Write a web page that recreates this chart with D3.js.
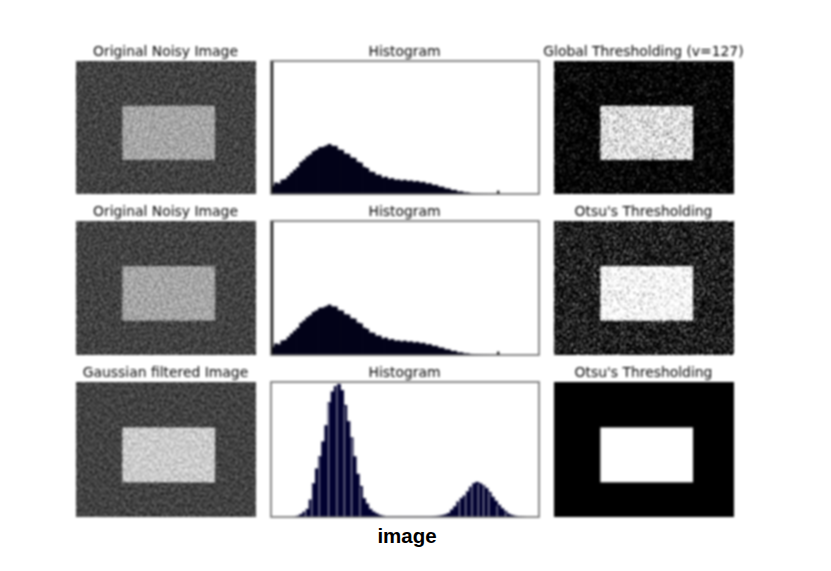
<!DOCTYPE html>
<html><head><meta charset="utf-8">
<script src="https://cdn.jsdelivr.net/npm/d3@7/dist/d3.min.js"></script>
<style>html,body{margin:0;background:#fff}svg{display:block;position:absolute;left:0;top:0}#c{filter:blur(0.8px)}</style></head>
<body><svg id="c" width="831" height="571"></svg><svg id="cap" width="831" height="571"></svg>
<script>
const imageTitles = [["Original Noisy Image","Global Thresholding (v=127)"],["Original Noisy Image","Otsu's Thresholding"],["Gaussian filtered Image","Otsu's Thresholding"]];
const histogramTitle = "Histogram";
const captionText = "image";
// histogram heights, % of axis height, one value per 3 intensity levels
const noisyHistogram = [6,8.6,8,10.8,11.2,13.6,16,18.2,20.3,24,25.8,28.2,29.7,32.2,33.3,35.2,35.4,36.4,37.6,36.2,36.2,33.4,33.2,30.4,30.2,27.4,27.2,24.2,23.6,20.4,19.6,16.8,16.6,14.4,14.5,12.4,13,11.4,11.9,10.6,10.9,10.1,10.7,9.8,10.2,9.3,9.8,8.8,9.1,7.8,8.1,6.8,6.9,5.5,5.5,4.2,4.2,3,3.1,1.9,2,1.2,1.2,.8,.6,.5,.4,.3,.3,.2,.2,.2,0,0,0,0,0,0,0,0,0,0,0,0,0];
const noisySpikes = [[0,100],[216,2.5]];
const gaussianHistogram = [0,0,0,0,0,0,0,.2,1,2.2,4,6,13,25,36,45,56,68,85,93,97,98.5,94,83,71,59,45,32,23,14,10,6,4,2.7,1.6,1,.4,.4,.4,.4,.4,.4,.4,.4,.4,.4,.4,.4,.4,.4,.4,.6,.8,1,1.4,2,3,5.5,8,11.5,14,16,19,22.5,25,26,25,23.5,21.5,18.5,15,12,9,6.5,4.5,2.5,1.6,1,.6,.4,.2,0,0,0,0];
const gaussianEmptyLevels = [33,39,46,55,63,70,77,85,180,186,192,198,203,208,216,224];
// image grey levels
const imageSize = [400,300];
const brightBox = [103,101,309,223];
const imageSpec = [
 [{bg:.26,fg:.65,n:.85,seed:3,f:.55},{bg:.22,fg:.7,n:1.2,seed:3,f:.7,t:.52,s:3.2}],
 [{bg:.26,fg:.65,n:.85,seed:3,f:.55},{bg:.24,fg:.7,n:1.2,seed:3,f:.7,t:.43,s:3.2}],
 [{bg:.26,fg:.8,n:.6,seed:7,f:.42},{bg:0,fg:1,n:0,seed:7,f:.7}]
];

const svg = d3.select("#c");
const defs = svg.append("defs");
const root = svg.append("g");
const grey = v => d3.rgb(v*255,v*255,v*255);
const cols = [76,271,554], widths=[180,268,180];
const rows = [[61,194],[221,355],[382,517]];
const titleY = [56,216,377];

function noiseFilter(id,spec){
  const f = defs.append("filter").attr("id",id).attr("x",0).attr("y",0).attr("width","100%").attr("height","100%").attr("color-interpolation-filters","sRGB");
  f.append("feTurbulence").attr("type","fractalNoise").attr("baseFrequency",spec.f).attr("numOctaves",2).attr("seed",spec.seed).attr("result","t");
  f.append("feColorMatrix").attr("in","t").attr("type","matrix").attr("values","1 0 0 0 0 1 0 0 0 0 1 0 0 0 0 0 0 0 0 1").attr("result","g");
  f.append("feComposite").attr("in","SourceGraphic").attr("in2","g").attr("operator","arithmetic")
    .attr("k1",0).attr("k2",1).attr("k3",spec.n).attr("k4",-spec.n/2).attr("result","m");
  if(spec.t!==undefined){
    const ct=f.append("feComponentTransfer").attr("in","m");
    for(const c of ["feFuncR","feFuncG","feFuncB"]) ct.append(c).attr("type","linear").attr("slope",spec.s).attr("intercept",.5-spec.s*spec.t);
  }
}
function drawImage(g,x0,y0,y1,spec,id){
  const w=180,h=y1-y0;
  const sx=d3.scaleLinear().domain([0,imageSize[0]]).range([x0,x0+w]);
  const sy=d3.scaleLinear().domain([0,imageSize[1]]).range([y0,y1]);
  if(spec.n>0) noiseFilter(id,spec);
  const p=g.append("g"); if(spec.n>0)p.attr("filter",`url(#${id})`);
  p.append("rect").attr("x",x0).attr("y",y0).attr("width",w).attr("height",h).attr("fill",grey(spec.bg));
  p.append("rect").attr("x",sx(brightBox[0])).attr("y",sy(brightBox[1])).attr("width",sx(brightBox[2])-sx(brightBox[0])).attr("height",sy(brightBox[3])-sy(brightBox[1])).attr("fill",grey(spec.fg));
}
function drawHist(g,x0,y0,y1,vals,color,spikes,empties){
  const sx=d3.scaleLinear().domain([0,256]).range([x0,x0+268]);
  const sy=d3.scaleLinear().domain([0,100]).range([y1,y0]);
  g.selectAll(null).data(vals).join("rect")
    .attr("x",(d,i)=>sx(i*3)).attr("width",sx(3)-sx(0)+.8)
    .attr("y",d=>sy(d)).attr("height",d=>y1-sy(d)).attr("fill",color);
  g.selectAll(null).data(spikes).join("rect")
    .attr("x",d=>sx(d[0])).attr("width",2.2).attr("y",d=>sy(d[1])).attr("height",d=>y1-sy(d[1])).attr("fill","#000");
  g.selectAll(null).data(empties).join("line")
    .attr("x1",d=>sx(d)).attr("x2",d=>sx(d)).attr("y1",d=>{const v=vals[Math.floor(d/3)];return sy(v)+1;}).attr("y2",y1)
    .attr("stroke","#fff").attr("stroke-width",1).attr("stroke-opacity",.7);
  g.append("rect").attr("x",x0).attr("y",y0).attr("width",268).attr("height",y1-y0).attr("fill","none").attr("stroke","#606060").attr("stroke-width",1.5);
}
rows.forEach((r,ri)=>{
  drawImage(root,cols[0],r[0],r[1],imageSpec[ri][0],`n${ri}a`);
  drawImage(root,cols[2],r[0],r[1],imageSpec[ri][1],`n${ri}b`);
  const hg=root.append("g");
  if(ri<2) drawHist(hg,cols[1],r[0],r[1],noisyHistogram,"#020218",noisySpikes,[]);
  else drawHist(hg,cols[1],r[0],r[1],gaussianHistogram,"#010130",[],gaussianEmptyLevels);
  const labels=[imageTitles[ri][0],histogramTitle,imageTitles[ri][1]];
  labels.forEach((t,ci)=>{
    root.append("text").attr("x",cols[ci]+widths[ci]/2-0.5).attr("y",titleY[ri]).attr("text-anchor","middle")
      .attr("font-family","DejaVu Sans").attr("font-size",13.9).attr("fill","#000").text(t);
  });
});
d3.select("#cap").append("text").attr("x",407).attr("y",543).attr("text-anchor","middle").attr("font-family","Liberation Sans")
  .attr("font-weight","bold").attr("font-size",20.5).attr("fill","#000").text(captionText);
</script></body></html>
